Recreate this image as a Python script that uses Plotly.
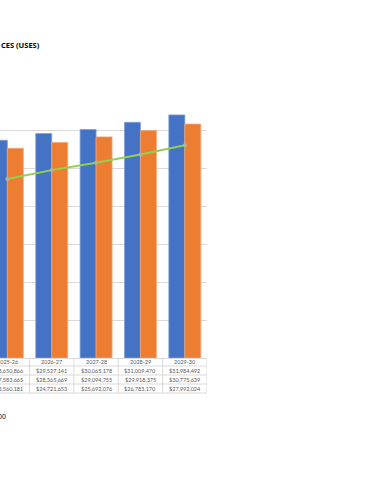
import plotly.graph_objects as go

# ---- data ----
years = ["2025-26", "2026-27", "2027-28", "2028-29", "2029-30"]
series_blue = [28650866, 29527141, 30065178, 31009470, 31984492]
series_orange = [27583665, 28365669, 29094755, 29918375, 30775639]
series_green = [23560181, 24721653, 25692076, 26783170, 27992024]
y_tick_vals = [0, 5e6, 10e6, 15e6, 20e6, 25e6, 30e6, 35e6]
title_text = "CES (USES)"
footer_text = "00"

BLUE = "#4472C4"
ORANGE = "#ED7D31"
GREEN = "#92D050"
GRID = "#D9D9D9"

PLOT_TOP = 92
PLOT_BOTTOM = 358
PLOT_H = PLOT_BOTTOM - PLOT_TOP


def py(px):
    """pixel row -> paper y"""
    return (PLOT_BOTTOM - px) / PLOT_H


fig = go.Figure()
fig.add_trace(go.Bar(x=years, y=series_blue, name="Series 1",
                     marker=dict(color=BLUE, line=dict(color="#7F9ED8", width=0.8))))
fig.add_trace(go.Bar(x=years, y=series_orange, name="Series 2",
                     marker=dict(color=ORANGE, line=dict(color="#F3A676", width=0.8))))
fig.add_trace(go.Scatter(x=years, y=series_green, name="Series 3", mode="lines+markers",
                         line=dict(color=GREEN, width=2),
                         marker=dict(color="#A9B7A0", size=4)))

annotations = []
shapes = []

# data table under the chart
row_centers = [361.5, 370.5, 379.5, 388.5]
row_lines = [366, 375, 384, 393]
rows = [years,
        [f"${v:,}" for v in series_blue],
        [f"${v:,}" for v in series_orange],
        [f"${v:,}" for v in series_green]]
for r, row in enumerate(rows):
    for c, txt in enumerate(row):
        annotations.append(dict(x=years[c], xref="x", y=py(row_centers[r]), yref="paper",
                                text=txt, showarrow=False, xanchor="center", yanchor="middle",
                                font=dict(family="Lato", size=5.5, color="#595959")))
for ly in row_lines:
    shapes.append(dict(type="line", xref="paper", yref="paper", x0=0, x1=1,
                       y0=py(ly), y1=py(ly), line=dict(color=GRID, width=1)))
for k in range(len(years)):
    shapes.append(dict(type="line", xref="x", yref="paper", x0=k + 0.5, x1=k + 0.5,
                       y0=py(PLOT_BOTTOM), y1=py(393), line=dict(color=GRID, width=1)))

annotations.append(dict(x=-0.005, xref="paper", y=py(45), yref="paper", text=f"<b>{title_text}</b>",
                        showarrow=False, xanchor="left", yanchor="middle",
                        font=dict(family="Open Sans", size=7.5, color="#000000")))
annotations.append(dict(x=8 / 206.7, xref="paper", y=py(416), yref="paper", text=footer_text,
                        showarrow=False, xanchor="right", yanchor="middle",
                        font=dict(family="Liberation Sans", size=7, color="#000000")))

fig.update_layout(
    width=370, height=480,
    margin=dict(l=0, r=163, t=PLOT_TOP, b=480 - PLOT_BOTTOM, pad=0),
    paper_bgcolor="white", plot_bgcolor="white",
    showlegend=False,
    barmode="group", bargap=0.28, bargroupgap=0,
    annotations=annotations, shapes=shapes,
    xaxis=dict(type="category", range=[-0.166, 4.5], showticklabels=False, ticks="",
               showgrid=False, showline=False, zeroline=False),
    yaxis=dict(range=[0, 35e6], tickvals=y_tick_vals, showticklabels=False, ticks="",
               showgrid=True, gridcolor=GRID, gridwidth=1,
               zeroline=True, zerolinecolor=GRID, zerolinewidth=1, showline=False),
)

fig.write_html("out.html", config={"displayModeBar": False},
               post_script="document.body.style.margin='0';")
